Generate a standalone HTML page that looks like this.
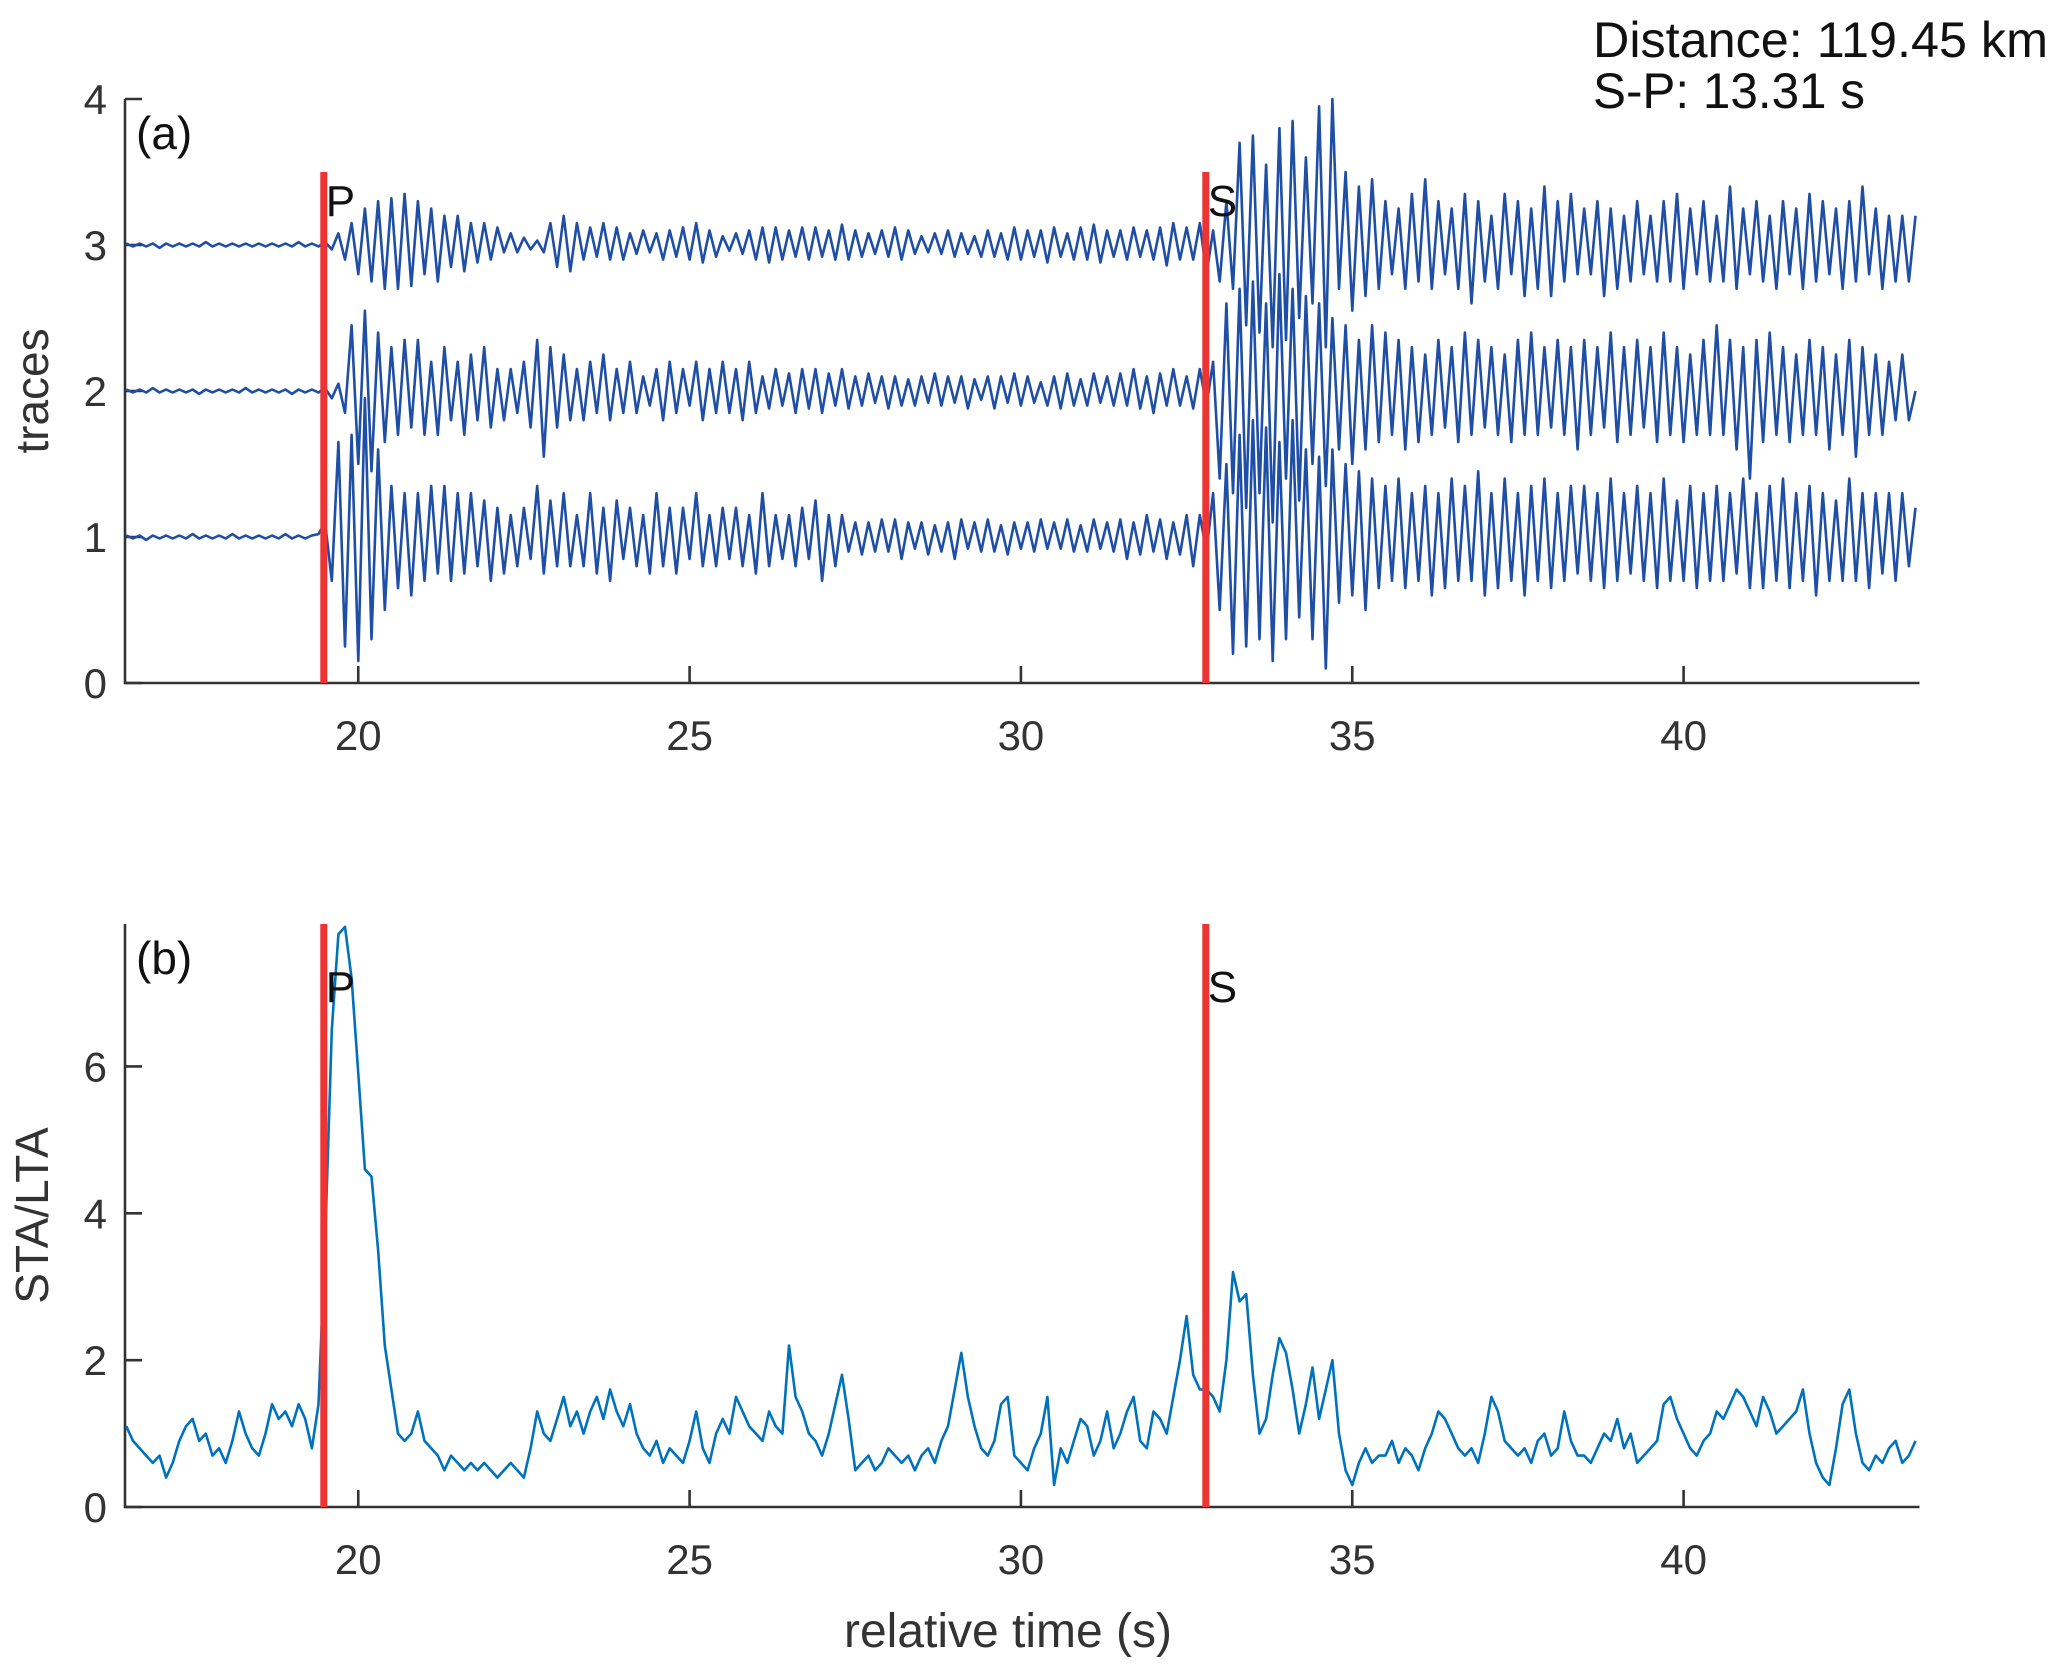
<!DOCTYPE html>
<html><head><meta charset="utf-8"><style>
html,body{margin:0;padding:0;background:#fff;}
svg{display:block;font-family:"Liberation Sans",sans-serif;}
</style></head><body>
<svg id="fig" width="2067" height="1678" viewBox="0 0 2067 1678" xmlns="http://www.w3.org/2000/svg">
<text x="1593" y="57" font-size="50" fill="#111" textLength="455" lengthAdjust="spacingAndGlyphs">Distance: 119.45 km</text>
<text x="1593" y="108" font-size="50" fill="#111" textLength="272" lengthAdjust="spacingAndGlyphs">S-P: 13.31 s</text>
<g id="topPanel"></g>
<g id="botPanel"></g>
</svg>
<script>
const t0 = 16.5, dt = 0.1;
const pTime = 19.48, sTime = 32.79;
const topYTicks = [0,1,2,3,4];
const botYTicks = [0,2,4,6];
const xTicks = [20,25,30,35,40];
const trace3 = [
.01,-.01,.01,-.01,.01,-.02,.01,-.01,.01,-.01,
.01,-.01,.02,-.01,.01,-.01,.01,-.01,.01,-.01,
.01,-.01,.01,-.01,.01,-.01,.02,-.01,.01,-.01,
.02,-.03,.08,-.1,.15,-.2,.25,-.25,.3,-.3,
.32,-.3,.35,-.28,.3,-.2,.25,-.25,.2,-.15,
.2,-.18,.15,-.12,.15,-.1,.12,-.05,.08,-.05,
.05,-.03,.03,-.05,.15,-.15,.2,-.18,.15,-.1,
.12,-.08,.15,-.1,.12,-.1,.08,-.06,.1,-.05,
.08,-.1,.1,-.08,.12,-.1,.15,-.12,.1,-.08,
.06,-.04,.08,-.06,.1,-.1,.12,-.12,.12,-.1,
.1,-.08,.12,-.1,.12,-.08,.1,-.1,.14,-.1,
.1,-.08,.08,-.06,.1,-.08,.12,-.1,.1,-.06,
.06,-.05,.08,-.06,.1,-.08,.08,-.06,.06,-.08,
.1,-.08,.08,-.1,.12,-.1,.1,-.08,.1,-.12,
.12,-.08,.08,-.1,.12,-.1,.14,-.12,.1,-.08,
.1,-.1,.12,-.08,.1,-.1,.12,-.14,.15,-.1,
.12,-.1,.15,-.2,.1,-.25,.3,-.3,.7,-.55,
.75,-.6,.55,-.7,.8,-.65,.85,-.5,.6,-.4,
.95,-.7,1.0,-.3,.5,-.45,.4,-.35,.45,-.3,
.3,-.2,.25,-.3,.35,-.25,.45,-.3,.3,-.2,
.25,-.3,.35,-.4,.3,-.25,.2,-.3,.35,-.2,
.3,-.35,.25,-.3,.4,-.35,.3,-.25,.35,-.2,
.25,-.2,.3,-.35,.25,-.3,.2,-.25,.3,-.2,
.2,-.25,.3,-.25,.35,-.3,.25,-.2,.3,-.25,
.2,-.25,.4,-.3,.25,-.2,.3,-.25,.2,-.3,
.3,-.2,.25,-.3,.35,-.25,.3,-.2,.25,-.3,
.3,-.25,.4,-.2,.25,-.3,.2,-.25,.2,-.25,
.2];
const trace2 = [
.01,-.01,.01,-.01,.02,-.01,.01,-.01,.01,-.01,
.01,-.02,.01,-.01,.01,-.01,.01,-.01,.02,-.01,
.01,-.01,.01,-.01,.01,-.02,.01,-.01,.01,-.01,
.02,-.05,.05,-.15,.45,-.5,.55,-.55,.4,-.35,
.3,-.3,.35,-.25,.35,-.3,.2,-.3,.3,-.2,
.2,-.3,.25,-.2,.3,-.25,.15,-.2,.15,-.15,
.2,-.25,.35,-.45,.3,-.25,.25,-.2,.15,-.2,
.2,-.15,.25,-.2,.15,-.15,.2,-.15,.1,-.1,
.15,-.2,.2,-.15,.15,-.1,.2,-.2,.15,-.15,
.2,-.15,.15,-.2,.2,-.15,.1,-.12,.15,-.1,
.12,-.15,.15,-.12,.15,-.15,.12,-.1,.15,-.12,
.1,-.1,.12,-.08,.1,-.12,.1,-.1,.08,-.1,
.1,-.08,.12,-.1,.1,-.08,.1,-.12,.08,-.06,
.1,-.12,.1,-.08,.12,-.1,.1,-.08,.06,-.1,
.1,-.12,.12,-.1,.08,-.1,.12,-.08,.1,-.1,
.12,-.1,.15,-.12,.1,-.15,.12,-.1,.15,-.1,
.1,-.12,.15,-.1,.2,-.6,.6,-.7,.7,-.8,
.75,-.7,.6,-.9,.8,-.6,.7,-.75,.65,-.5,
.6,-.65,.5,-.4,.45,-.5,.35,-.4,.45,-.35,
.4,-.3,.35,-.4,.3,-.35,.25,-.3,.35,-.25,
.3,-.35,.4,-.3,.35,-.25,.3,-.3,.25,-.35,
.35,-.3,.4,-.3,.3,-.25,.35,-.3,.3,-.4,
.35,-.3,.3,-.25,.4,-.35,.3,-.3,.35,-.25,
.3,-.35,.4,-.3,.3,-.35,.25,-.3,.35,-.3,
.45,-.3,.35,-.4,.3,-.6,.35,-.35,.4,-.3,
.3,-.35,.25,-.3,.35,-.3,.3,-.4,.25,-.3,
.35,-.45,.3,-.3,.25,-.3,.2,-.2,.25,-.2,
.0];
const trace1 = [
.01,-.01,.01,-.02,.01,-.01,.01,-.01,.01,-.01,
.02,-.01,.01,-.01,.01,-.01,.02,-.01,.01,-.01,
.01,-.01,.01,-.01,.02,-.01,.01,-.01,.01,.02,
.1,-.3,.65,-.75,.7,-.85,.95,-.7,.6,-.5,
.35,-.35,.3,-.4,.3,-.3,.35,-.25,.35,-.3,
.3,-.25,.3,-.2,.25,-.3,.2,-.25,.15,-.2,
.2,-.15,.35,-.25,.25,-.2,.3,-.2,.15,-.2,
.3,-.25,.2,-.3,.25,-.15,.2,-.2,.15,-.25,
.3,-.2,.2,-.25,.2,-.15,.3,-.2,.15,-.2,
.2,-.15,.2,-.2,.15,-.25,.3,-.2,.15,-.15,
.15,-.2,.2,-.15,.25,-.3,.15,-.2,.15,-.1,
.1,-.12,.1,-.1,.12,-.1,.12,-.15,.1,-.08,
.1,-.12,.08,-.1,.1,-.15,.12,-.08,.1,-.1,
.12,-.1,.08,-.12,.1,-.08,.1,-.1,.12,-.08,
.1,-.08,.12,-.1,.08,-.1,.12,-.08,.1,-.1,
.12,-.15,.1,-.12,.15,-.1,.12,-.15,.1,-.12,
.15,-.2,.15,-.1,.3,-.5,.5,-.8,.7,-.75,
.8,-.7,.75,-.85,.65,-.7,.8,-.55,.6,-.7,
.55,-.9,.6,-.45,.5,-.4,.45,-.5,.4,-.35,
.35,-.3,.4,-.35,.3,-.3,.35,-.4,.3,-.35,
.4,-.3,.35,-.3,.45,-.4,.3,-.35,.4,-.3,
.3,-.4,.35,-.3,.4,-.35,.3,-.3,.35,-.25,
.35,-.3,.3,-.35,.4,-.3,.3,-.25,.35,-.3,
.3,-.35,.4,-.3,.25,-.3,.35,-.35,.3,-.3,
.35,-.3,.3,-.25,.4,-.35,.3,-.35,.35,-.3,
.4,-.35,.3,-.3,.35,-.4,.3,-.3,.25,-.3,
.4,-.3,.3,-.35,.3,-.25,.3,-.3,.3,-.2,
.2];
const staLta = [
1.1,.9,.8,.7,.6,.7,.4,.6,.9,1.1,
1.2,.9,1.0,.7,.8,.6,.9,1.3,1.0,.8,
.7,1.0,1.4,1.2,1.3,1.1,1.4,1.2,.8,1.4,
3.6,6.5,7.8,7.9,7.2,5.9,4.6,4.5,3.5,2.2,
1.6,1.0,.9,1.0,1.3,.9,.8,.7,.5,.7,
.6,.5,.6,.5,.6,.5,.4,.5,.6,.5,
.4,.8,1.3,1.0,.9,1.2,1.5,1.1,1.3,1.0,
1.3,1.5,1.2,1.6,1.3,1.1,1.4,1.0,.8,.7,
.9,.6,.8,.7,.6,.9,1.3,.8,.6,1.0,
1.2,1.0,1.5,1.3,1.1,1.0,.9,1.3,1.1,1.0,
2.2,1.5,1.3,1.0,.9,.7,1.0,1.4,1.8,1.2,
.5,.6,.7,.5,.6,.8,.7,.6,.7,.5,
.7,.8,.6,.9,1.1,1.6,2.1,1.5,1.1,.8,
.7,.9,1.4,1.5,.7,.6,.5,.8,1.0,1.5,
.3,.8,.6,.9,1.2,1.1,.7,.9,1.3,.8,
1.0,1.3,1.5,.9,.8,1.3,1.2,1.0,1.5,2.0,
2.6,1.8,1.6,1.6,1.5,1.3,2.0,3.2,2.8,2.9,
1.8,1.0,1.2,1.8,2.3,2.1,1.6,1.0,1.4,1.9,
1.2,1.6,2.0,1.0,.5,.3,.6,.8,.6,.7,
.7,.9,.6,.8,.7,.5,.8,1.0,1.3,1.2,
1.0,.8,.7,.8,.6,1.0,1.5,1.3,.9,.8,
.7,.8,.6,.9,1.0,.7,.8,1.3,.9,.7,
.7,.6,.8,1.0,.9,1.2,.8,1.0,.6,.7,
.8,.9,1.4,1.5,1.2,1.0,.8,.7,.9,1.0,
1.3,1.2,1.4,1.6,1.5,1.3,1.1,1.5,1.3,1.0,
1.1,1.2,1.3,1.6,1.0,.6,.4,.3,.8,1.4,
1.6,1.0,.6,.5,.7,.6,.8,.9,.6,.7,
.9];

const NS='http://www.w3.org/2000/svg';
const X0=125, X1=1919.5, XMIN=16.48, XMAX=43.56;
const sx = v => X0 + (v-XMIN)/(XMAX-XMIN)*(X1-X0);
function mk(parent, tag, attrs, txt){
  const e=document.createElementNS(NS,tag);
  for(const k in attrs) e.setAttribute(k,attrs[k]);
  if(txt!==undefined) e.textContent=txt;
  parent.appendChild(e); return e;
}
function panel(g, yTop, yBot, ymin, ymax, yTicks, ylabel, tag){
  const sy = v => yBot - (v-ymin)/(ymax-ymin)*(yBot-yTop);
  const ax = mk(g,'path',{d:`M${X0},${yTop}V${yBot}H${X1}`,fill:'none',stroke:'#333',"stroke-width":2.6});
  
  
  yTicks.forEach(v=>{
    const l=mk(g,'line',{x1:X0,x2:X0+17,y1:sy(v),y2:sy(v),stroke:'#333',"stroke-width":2.6});
    
    
    const t=mk(g,'text',{x:X0-18,y:sy(v)+15,"font-size":42,fill:'#333',"text-anchor":'end'},String(v));
    
    
  });
  xTicks.forEach(v=>{
    const l=mk(g,'line',{x1:sx(v),x2:sx(v),y1:yBot,y2:yBot-17,stroke:'#333',"stroke-width":2.6});
    
    
    const t=mk(g,'text',{x:sx(v),y:yBot+67,"font-size":42,fill:'#333',"text-anchor":'middle'},String(v));
    
    
  });
  const cy=(yTop+yBot)/2;
  const yl=mk(g,'text',{x:0,y:0,"font-size":46,fill:'#333',"text-anchor":'middle',transform:`translate(48,${cy}) rotate(-90)`},ylabel);
  
  
  const pt=mk(g,'text',{x:136,y:yTop+50,"font-size":46,fill:'#111'},tag);
  
  
  return sy;
}
function drawLine(g, arr, offset, sy, color, w, name){
  let d='';
  arr.forEach((v,i)=>{ d+=(i?'L':'M')+sx(t0+i*dt).toFixed(1)+','+sy(offset+v).toFixed(1); });
  const p=mk(g,'path',{d:d,fill:'none',stroke:color,"stroke-width":w,"stroke-linejoin":'round'});
  
  
}
function pick(g, t, y1, y2, lab, ly, name){
  const l=mk(g,'line',{x1:sx(t),x2:sx(t),y1:y1,y2:y2,stroke:'#ee3333',"stroke-width":7});
  
  
  const tx=mk(g,'text',{x:sx(t)+2,y:ly,"font-size":44,fill:'#111'},lab);
  
  
}
const topG=document.getElementById('topPanel');
const syT=panel(topG,99,683,0,4,topYTicks,'traces','(a)');
drawLine(topG,trace3,3,syT,'#1f4ea6',2.6,'trace-3');
drawLine(topG,trace2,2,syT,'#1f4ea6',2.6,'trace-2');
drawLine(topG,trace1,1,syT,'#1f4ea6',2.6,'trace-1');
pick(topG,pTime,syT(3.5),683,'P',syT(3.5)+44,'p');
pick(topG,sTime,syT(3.5),683,'S',syT(3.5)+44,'s');
const botG=document.getElementById('botPanel');
const syB=panel(botG,924,1507,0,7.94,botYTicks,'STA/LTA','(b)');
drawLine(botG,staLta,0,syB,'#0072bd',2.6,'sta-lta-curve');
pick(botG,pTime,924,1507,'P',1002,'p');
pick(botG,sTime,924,1507,'S',1002,'s');
const xl=mk(botG,'text',{x:1008,y:1647,"font-size":48,fill:'#333',"text-anchor":'middle'},'relative time (s)');


</script>
</body></html>
